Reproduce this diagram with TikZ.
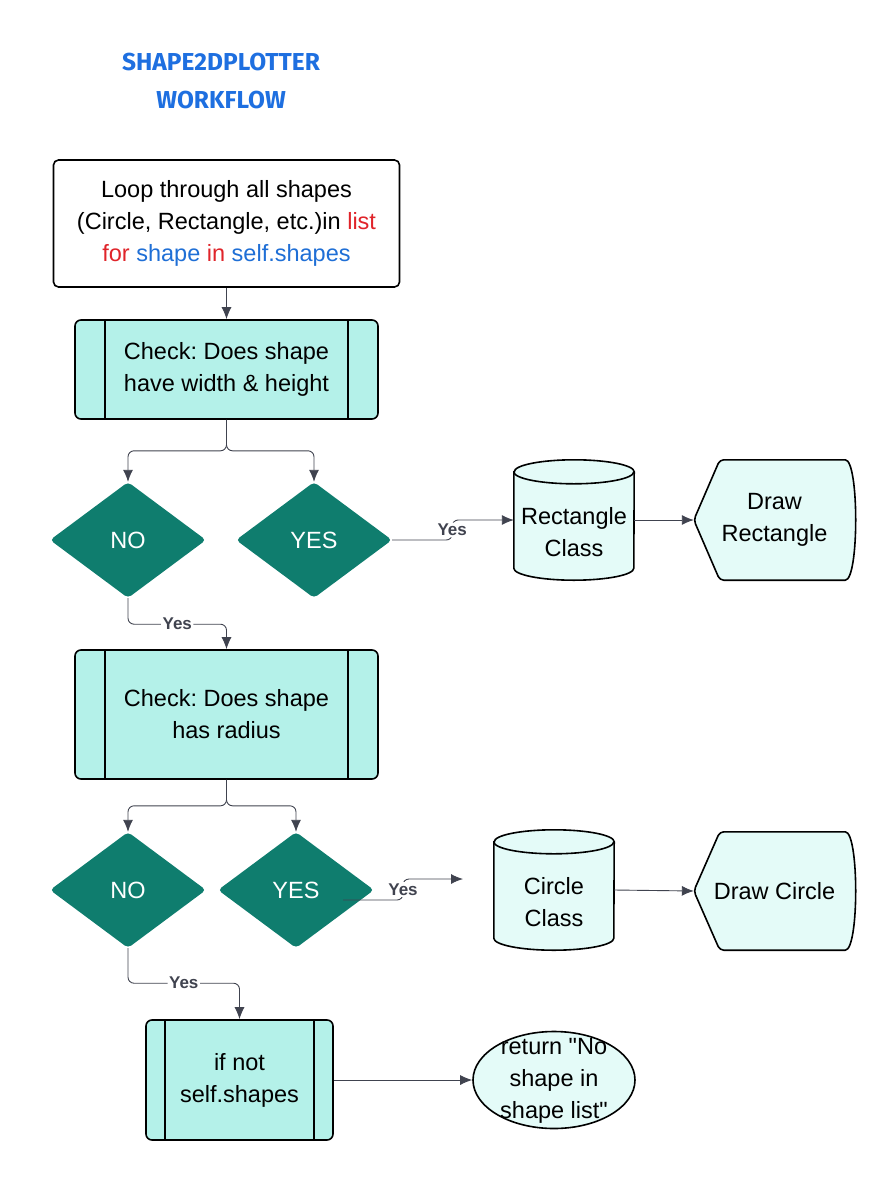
\documentclass[tikz,border=0pt]{standalone}
\usepackage{fontspec}
\setmainfont{Liberation Sans}[Ligatures=TeXOff]
\newfontfamily\titlefont{Fira Sans}
\usetikzlibrary{shapes.geometric,arrows.meta,backgrounds}
\definecolor{deepteal}{HTML}{0F7D6E}
\definecolor{mintfill}{HTML}{B4F1E9}
\definecolor{palefill}{HTML}{E4FBF8}
\definecolor{linkgray}{HTML}{40434F}
\definecolor{codered}{HTML}{E0242A}
\definecolor{codeblue}{HTML}{1F6FD6}
\definecolor{titleblue}{HTML}{1E6FE0}
\frenchspacing

\begin{document}
\begin{tikzpicture}[x=1pt,y=-1pt,font=\fontsize{23.5}{32}\selectfont]
\tikzset{
  heading/.style={text=titleblue, font=\titlefont\bfseries\fontsize{24.5}{28}\selectfont},
  startbox/.style={draw, line width=1.6pt, rounded corners=5pt, fill=white, align=center, minimum width=346pt, minimum height=127pt},
  procbox/.style={draw, line width=1.6pt, rounded corners=6pt, fill=mintfill, align=center, minimum height=99pt,
    path picture={\draw[line width=1.6pt] ([xshift=#1]path picture bounding box.north west) -- ([xshift=#1]path picture bounding box.south west)
      ([xshift=-#1]path picture bounding box.north east) -- ([xshift=-#1]path picture bounding box.south east);}},
  decision/.style={diamond, fill=deepteal, text=white, minimum width=156pt, minimum height=116pt, inner sep=0pt, rounded corners=4pt},
  cylbox/.style={align=center, minimum width=120pt, minimum height=96pt, inner sep=0pt},
  showbox/.style={align=center, minimum width=161pt, minimum height=120pt, inner sep=0pt},
  endshape/.style={ellipse, draw, line width=1.6pt, fill=palefill, minimum width=162pt, minimum height=97pt, inner sep=0pt},
  outline/.style={draw, line width=1.6pt, fill=palefill},
  flow/.style={draw=linkgray, line width=0.9pt, rounded corners=6pt, -{Latex[length=12pt,width=10pt]}},
  yeslbl/.style={fill=white, inner sep=1.5pt, text=linkgray, font=\bfseries\fontsize{17}{20}\selectfont}
}
\useasboundingbox (0,0) rectangle (894,1180);

\node[heading] (title1) at (221,62) {SHAPE2DPLOTTER};
\node[heading] (title2) at (221,100) {WORKFLOW};

\node[startbox] (loop) at (226.5,223.5) {Loop through all shapes\\(Circle, Rectangle, etc.)in \textcolor{codered}{list}\\
  \textcolor{codered}{for} \textcolor{codeblue}{shape} \textcolor{codered}{in} \textcolor{codeblue}{self.shapes}};
\node[procbox=30pt, minimum width=303pt] (chk1) at (226.5,369.5) {Check: Does shape\\have width \& height};
\node[decision] (no1) at (128,540) {NO};
\node[decision] (yes1) at (314,540) {YES};
\node[cylbox] (rectcls) at (574,532) {Rectangle\\Class};
\node[showbox] (drawrect) at (774.5,520) {Draw\\Rectangle};

\node[procbox=30pt, minimum width=303pt, minimum height=129pt] (chk2) at (226.5,714.5) {Check: Does shape\\has radius};
\node[decision] (no2) at (128,890) {NO};
\node[decision] (yes2) at (296,890) {YES};
\node[cylbox] (circcls) at (554,902) {Circle\\Class};
\node[showbox, minimum height=118pt] (drawcirc) at (774.5,891) {Draw Circle};

\node[procbox=19pt, minimum width=187pt, minimum height=120pt] (ifnot) at (239.5,1080) {if not\\self.shapes};
\node[endshape] (retshape) at (554,1080) {};
\node[align=center] (rettext) at (554,1081) {return "No\\shape in\\shape list"};

\begin{scope}[on background layer]
\foreach \c in {rectcls,circcls} {
  \draw[outline] ([yshift=12pt]\c.north west) -- ([yshift=12pt]\c.south west) arc (180:360:60pt and 12pt)
    -- ([yshift=12pt]\c.north east) arc (0:180:60pt and 12pt) -- cycle;
  \draw[line width=1.6pt] ([yshift=12pt]\c.north west) arc (180:360:60pt and 12pt);
}
\foreach \d in {drawrect,drawcirc}
  \draw[outline, rounded corners=4pt] (\d.west) -- ([xshift=26pt]\d.north west) -- ([xshift=-14pt]\d.north east)
    .. controls ([xshift=4pt]\d.north east) and ([xshift=4pt]\d.south east) .. ([xshift=-14pt]\d.south east)
    -- ([xshift=26pt]\d.south west) -- cycle;
\end{scope}

\coordinate (c2tail) at (343,900);
\coordinate (c2head) at (463,879);

\draw[flow] (loop.south) -- (chk1.north);
\draw[flow] (chk1.south) -- ++(0,31) -| (no1.north);
\draw[flow] (chk1.south) -- ++(0,31) -| (yes1.north);
\draw[flow] (yes1.east) -- ++(60,0) |- node[yeslbl, pos=0.25] {Yes} ([yshift=12pt]rectcls.west);
\draw[flow] ([yshift=12pt]rectcls.east) -- (drawrect.west);
\draw[flow] (no1.south) |- node[yeslbl, pos=0.75] {Yes} ([yshift=25pt]chk2.north) -- (chk2.north);

\draw[flow] (chk2.south) -- ++(0,26) -| (no2.north);
\draw[flow] (chk2.south) -- ++(0,26) -| (yes2.north);
\draw[flow] (c2tail) -- ++(60,0) |- node[yeslbl, pos=0.25] {Yes} (c2head);
\draw[flow] ([yshift=12pt]circcls.east) -- (drawcirc.west);
\draw[flow] (no2.south) |- node[yeslbl, pos=0.75] {Yes} ([yshift=36pt]ifnot.north) -- (ifnot.north);

\draw[flow] (ifnot.east) -- (retshape.west);
\end{tikzpicture}
\end{document}
